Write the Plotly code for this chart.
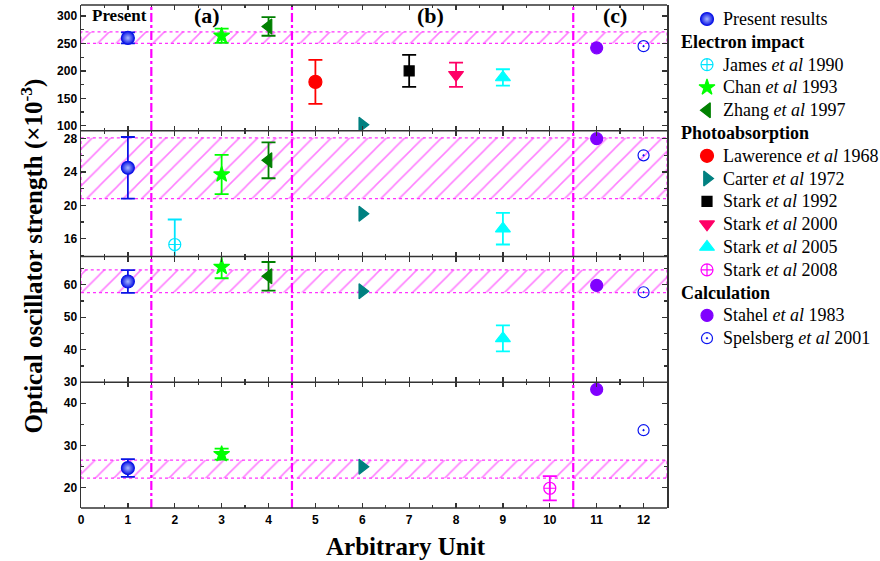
import plotly.graph_objects as go

# ---------------- data (panels top -> bottom) ----------------
x_range = [0, 12.5]
x_tickvals = list(range(0, 13))
separators = [1.5, 4.5, 10.5]

band_low = [250, 20.8, 57.6, 22.2]
band_high = [271, 28.1, 64.6, 26.5]

present_y = [260, 24.5, 61.0, 24.6]
present_err = [10, 3.7, 3.5, 2.1]

james_y = [None, 15.3, None, None]
james_err = [None, 3.0, None, None]

chan_y = [264, 23.7, 65.5, 27.9]
chan_err = [13, 2.35, 3.5, 1.3]

zhang_y = [281, 25.4, 62.6, None]
zhang_err = [17, 2.15, 4.4, None]

lawerence_y = [180, None, None, None]
lawerence_err = [40, None, None, None]

carter_y = [102, 19.0, 58.0, 24.9]
carter_err = [None, None, None, None]

stark1992_y = [200, None, None, None]
stark1992_err = [29, None, None, None]

stark2000_y = [193, None, None, None]
stark2000_err = [22, None, None, None]

stark2005_y = [188, 17.2, 43.5, None]
stark2005_err = [15, 1.9, 4.0, None]

stark2008_y = [None, None, None, 19.8]
stark2008_err = [None, None, None, 2.9]

stahel_y = [242, 28.0, 59.8, 43.3]
stahel_err = [None, None, None, None]

spelsberg_y = [245, 26.0, 57.7, 33.6]
spelsberg_err = [None, None, None, None]

y_ranges = [[91, 320], [13.86, 28.95], [30, 68.7], [15.1, 45]]
y_dticks = [50, 4, 10, 10]
y_minor = [25, 2, 5, 5]

panel_labels = ["Present", "(a)", "(b)", "(c)"]
panel_label_x = [0.83, 2.69, 7.45, 11.4]

# ---------------- series definitions ----------------
series = [
    dict(name="Present results", x=1, y=present_y, e=present_err, sym="circle", col="#0a14e6", size=13, grp=None, grad=True),
    dict(name="James <i>et al</i> 1990", x=2, y=james_y, e=james_err, sym="circle-cross-open", col="#00e5ff", size=12, grp="Electron impact"),
    dict(name="Chan <i>et al</i> 1993", x=3, y=chan_y, e=chan_err, sym="star", col="#00ff00", size=12, grp="Electron impact"),
    dict(name="Zhang <i>et al</i> 1997", x=4, y=zhang_y, e=zhang_err, sym="triangle-left", col="#008000", size=13, grp="Electron impact"),
    dict(name="Lawerence <i>et al</i> 1968", x=5, y=lawerence_y, e=lawerence_err, sym="circle", col="#ff0000", size=13, grp="Photoabsorption"),
    dict(name="Carter <i>et al</i> 1972", x=6, y=carter_y, e=carter_err, sym="triangle-right", col="#008080", size=13, grp="Photoabsorption"),
    dict(name="Stark <i>et al</i> 1992", x=7, y=stark1992_y, e=stark1992_err, sym="square", col="#000000", size=10, grp="Photoabsorption"),
    dict(name="Stark <i>et al</i> 2000", x=8, y=stark2000_y, e=stark2000_err, sym="triangle-down", col="#ff0066", size=13, grp="Photoabsorption"),
    dict(name="Stark <i>et al</i> 2005", x=9, y=stark2005_y, e=stark2005_err, sym="triangle-up", col="#00ffff", size=13, grp="Photoabsorption"),
    dict(name="Stark <i>et al</i> 2008", x=10, y=stark2008_y, e=stark2008_err, sym="circle-cross-open", col="#ff00ff", size=12, grp="Photoabsorption"),
    dict(name="Stahel <i>et al</i> 1983", x=11, y=stahel_y, e=stahel_err, sym="circle", col="#8000ff", size=12, grp="Calculation"),
    dict(name="Spelsberg <i>et al</i> 2001", x=12, y=spelsberg_y, e=spelsberg_err, sym="circle-open-dot", col="#0a14f0", size=11, grp="Calculation"),
]

# ---------------- layout geometry ----------------
W, H = 880, 561
ML, MT, MB = 81, 5, 53
PAPER_W = W - ML
PLOT_W = 586
x_dom_end = PLOT_W / PAPER_W
doms = [[0.75, 1.0], [0.5, 0.75], [0.25, 0.5], [0.0, 0.25]]
PLOT_H = H - MT - MB

fig = go.Figure()
AX = ["", "2", "3", "4"]

# hatched bands
for i in range(4):
    fig.add_trace(go.Scatter(
        x=[x_range[0], x_range[1], x_range[1], x_range[0], x_range[0]],
        y=[band_low[i], band_low[i], band_high[i], band_high[i], band_low[i]],
        xaxis="x" + AX[i], yaxis="y" + AX[i],
        mode="lines", fill="toself",
        fillcolor="rgba(0,0,0,0)",
        fillpattern=dict(shape="/", fgcolor="#ff00ff", bgcolor="rgba(255,255,255,0)", size=13, solidity=0.12),
        line=dict(color="#ff33ff", width=1.2, dash="dot"),
        showlegend=False, hoverinfo="skip"))


def make_marker(s):
    m = dict(symbol=s["sym"], color=s["col"], size=s["size"], line=dict(color=s["col"], width=1.2))
    if s.get("grad"):
        m["gradient"] = dict(type="radial", color="#a8b8ff")
    return m


# data series
for s in series:
    for i in range(4):
        if s["y"][i] is None:
            continue
        kw = {}
        if s["e"][i] is not None:
            kw["error_y"] = dict(type="data", array=[s["e"][i]], color=s["col"], thickness=1.8, width=7)
        fig.add_trace(go.Scatter(x=[s["x"]], y=[s["y"][i]], mode="markers", name=s["name"],
                                 xaxis="x" + AX[i], yaxis="y" + AX[i],
                                 marker=make_marker(s), showlegend=False, **kw))

# ---------------- custom legend on its own hidden axes ----------------
legend_rows = []  # (kind, text, series)
current = None
for s in series:
    if s["grp"] != current and s["grp"] is not None:
        legend_rows.append(("title", s["grp"], None))
    current = s["grp"]
    legend_rows.append(("item", s["name"], s))

ROW_H = 22.8
ROW0 = 19
leg_x0 = 673
leg_sym = 707
leg_txt = 721
leg_title = 679
annos = []
for r, (kind, text, s) in enumerate(legend_rows):
    if kind == "title":
        annos.append(dict(text="<b>%s</b>" % text, x=leg_title, y=r, xref="x5", yref="y5",
                          xanchor="left", yanchor="middle", showarrow=False,
                          font=dict(family="Liberation Serif", size=18, color="black")))
    else:
        fig.add_trace(go.Scatter(x=[leg_sym], y=[r], mode="markers", marker=make_marker(s),
                                 xaxis="x5", yaxis="y5", showlegend=False, hoverinfo="skip"))
        annos.append(dict(text=text, x=leg_txt, y=r, xref="x5", yref="y5",
                          xanchor="left", yanchor="middle", showarrow=False,
                          font=dict(family="Liberation Serif", size=18, color="black")))

# separators
for sx in separators:
    fig.add_shape(type="line", xref="x4", yref="paper", x0=sx, x1=sx, y0=0, y1=1,
                  line=dict(color="#ff00ff", width=2.2, dash="dashdot"), layer="above")

# frame lines (horizontal)
for yb in [0, 0.25, 0.5, 0.75, 1.0]:
    fig.add_shape(type="line", xref="paper", yref="paper", x0=0, x1=x_dom_end, y0=yb, y1=yb,
                  line=dict(color="#333", width=1.5), layer="above")

tickfont = dict(family="Liberation Sans", size=12, color="black", weight="bold")
layout_axes = {}
for i in range(4):
    layout_axes["xaxis" + AX[i]] = dict(
        domain=[0, x_dom_end], anchor="y" + AX[i],
        range=x_range, tickvals=x_tickvals, ticks="inside", ticklen=5,
        tickwidth=1.3, tickcolor="#333", showline=True, linecolor="rgba(0,0,0,0)", linewidth=1.5,
        mirror="allticks", showgrid=False, zeroline=False,
        minor=dict(ticks="inside", dtick=0.5, tick0=0, ticklen=3, tickcolor="#333", showgrid=False),
        showticklabels=(i == 3), tickfont=tickfont)
    layout_axes["yaxis" + AX[i]] = dict(
        domain=doms[i], anchor="x" + AX[i], range=y_ranges[i], dtick=y_dticks[i], tick0=0,
        ticks="inside", ticklen=5, tickwidth=1.3, tickcolor="#333", showline=True,
        linecolor="#333", linewidth=1.5, mirror="allticks", showgrid=False, zeroline=False,
        minor=dict(ticks="inside", dtick=y_minor[i], tick0=0, ticklen=3, tickcolor="#333", showgrid=False),
        tickfont=tickfont)

layout_axes["xaxis5"] = dict(domain=[(leg_x0 - ML) / PAPER_W, 1], anchor="y5",
                             range=[leg_x0, W], visible=False, fixedrange=True)
layout_axes["yaxis5"] = dict(domain=[0, 1], anchor="x5",
                             range=[(MT + PLOT_H - ROW0) / ROW_H, (MT - ROW0) / ROW_H],
                             visible=False, fixedrange=True)

for lab, lx in zip(panel_labels, panel_label_x):
    annos.append(dict(text="<b>%s</b>" % lab, x=lx, xref="x", y=0.98, yref="paper", showarrow=False,
                      font=dict(family="Liberation Serif", size=17 if lab == "Present" else 22, color="black"),
                      xanchor="center", yanchor="middle"))
annos.append(dict(text="<b>Optical oscillator strength (×10<sup>-3</sup>)</b>", x=(32 - ML) / PAPER_W,
                  xref="paper", y=0.5, yref="paper", textangle=-90, showarrow=False,
                  font=dict(family="Liberation Serif", size=25, color="black"), xanchor="center", yanchor="middle"))
annos.append(dict(text="<b>Arbitrary Unit</b>", x=(406 - ML) / PAPER_W, xref="paper",
                  y=-(546 - (MT + PLOT_H)) / PLOT_H, yref="paper",
                  showarrow=False, font=dict(family="Liberation Serif", size=25, color="black"),
                  xanchor="center", yanchor="middle"))

fig.update_layout(
    width=W, height=H,
    margin=dict(l=ML, r=0, t=MT, b=MB, autoexpand=False),
    paper_bgcolor="white", plot_bgcolor="white",
    annotations=annos, showlegend=False, hovermode=False,
    **layout_axes,
)

fig.write_html("out.html", config={"displayModeBar": False, "staticPlot": True},
               post_script="document.body.style.margin='0';document.body.style.overflow='hidden';")
